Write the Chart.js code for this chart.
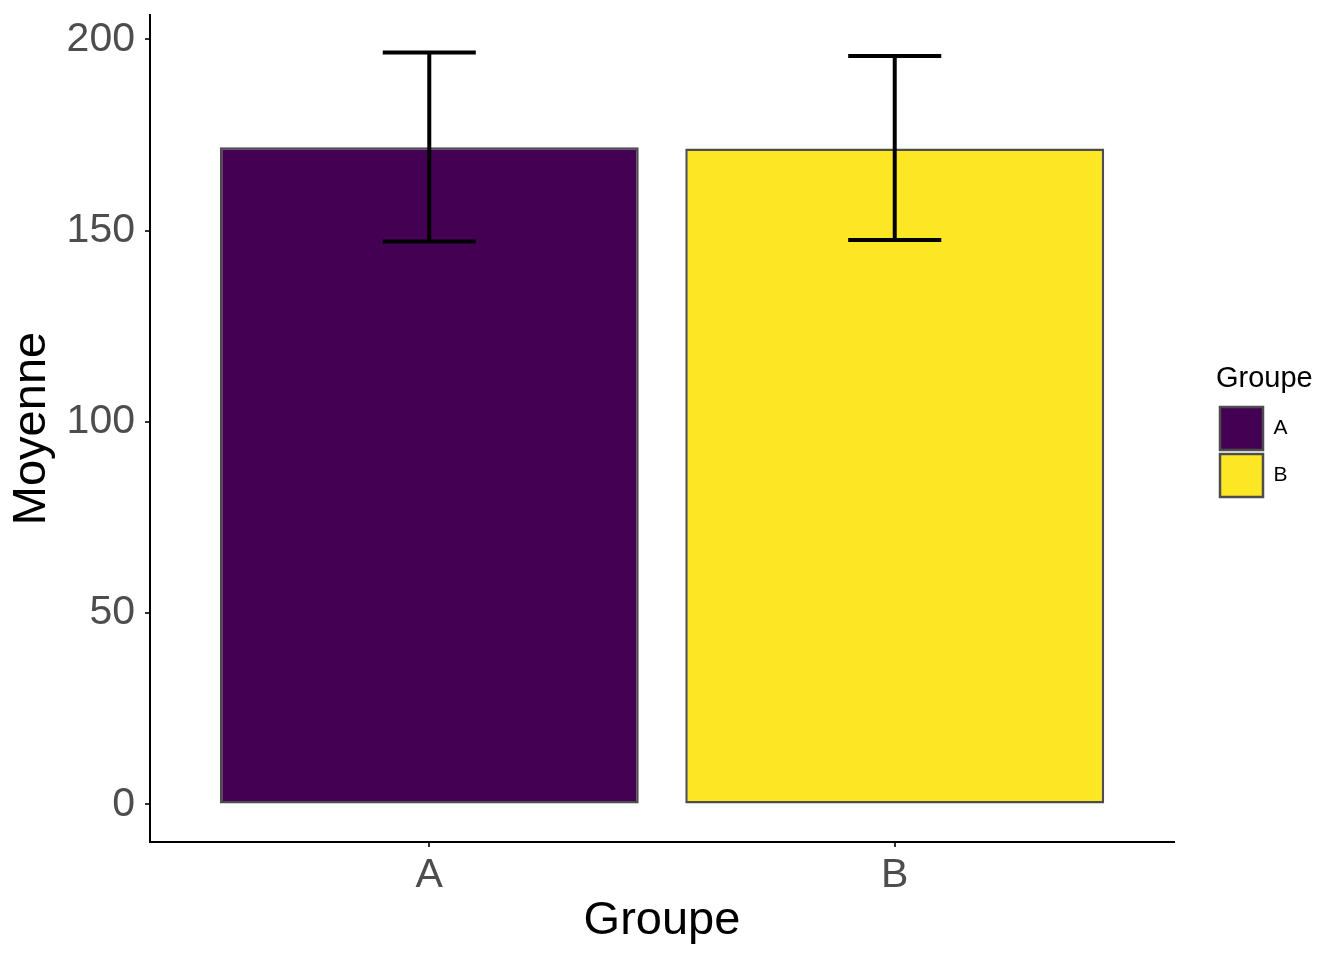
<!DOCTYPE html>
<html>
<head>
<meta charset="utf-8">
<script src="https://cdn.jsdelivr.net/npm/chart.js@4/dist/chart.umd.min.js"></script>
<style>
  body { margin: 0; background: #fff; }
  #wrap { width: 1344px; height: 960px; }
</style>
</head>
<body>
<div id="wrap"><canvas id="chart-moyenne" width="1344" height="960"></canvas></div>
<script>
// data
const groupes = ["A", "B"];
const moyennes = [171.8, 171.5];
const errBas = [147.2, 147.6];
const errHaut = [196.6, 195.7];
const couleurs = ["#440154", "#FDE725"];
const yTicks = [0, 50, 100, 150, 200];

const tickFont = { family: "'Liberation Sans', Arial, sans-serif", size: 41 };
const titleFont = { family: "'Liberation Sans', Arial, sans-serif", size: 47 };

// error bars drawn with the chart scales
const errorBars = {
  id: "errorBars",
  afterDatasetsDraw(chart) {
    const { ctx, scales: { x, y } } = chart;
    ctx.save();
    ctx.strokeStyle = "#000";
    ctx.lineWidth = 4;
    ctx.lineCap = "butt";
    groupes.forEach((g, i) => {
      const cx = x.getPixelForValue(i + 1);
      const half = x.getPixelForValue(i + 1.1) - cx;
      const top = y.getPixelForValue(errHaut[i]);
      const bot = y.getPixelForValue(errBas[i]);
      ctx.beginPath();
      ctx.moveTo(cx, top); ctx.lineTo(cx, bot);
      ctx.moveTo(cx - half, top); ctx.lineTo(cx + half, top);
      ctx.moveTo(cx - half, bot); ctx.lineTo(cx + half, bot);
      ctx.stroke();
    });
    ctx.restore();
  }
};

// keep the legend wide enough for its title
const legendWidth = {
  id: "legendWidth",
  beforeLayout(chart) {
    const lg = chart.legend;
    if (lg && !lg._wide) {
      const fit = lg.fit;
      lg.fit = function () { fit.call(this); this.width = 128; };
      lg._wide = true;
    }
  }
};

const datasets = groupes.map((g, i) => ({
  label: g,
  data: [{ x: i + 1, y: moyennes[i] }],
  backgroundColor: couleurs[i],
  borderColor: "#4d4d4d",
  borderWidth: 2.5,
  borderSkipped: false,
  grouped: false,
  barPercentage: 0.9,
  categoryPercentage: 1
}));

new Chart(document.getElementById("chart-moyenne"), {
  type: "bar",
  data: { datasets },
  plugins: [errorBars, legendWidth],
  options: {
    responsive: false,
    animation: false,
    devicePixelRatio: 1,
    layout: { padding: { top: 15, left: 0, bottom: 0, right: 0 } },
    plugins: {
      tooltip: { enabled: false },
      legend: {
        position: "right",
        fullSize: false,
        title: {
          display: true,
          text: "Groupe",
          position: "start",
          color: "#000",
          font: { family: "'Liberation Sans', Arial, sans-serif", size: 29, lineHeight: 1.2 },
          padding: { top: 8, bottom: 4 }
        },
        labels: {
          boxWidth: 43,
          boxHeight: 43,
          padding: 4,
          color: "#000",
          font: { family: "'Liberation Sans', Arial, sans-serif", size: 21 }
        }
      }
    },
    scales: {
      x: {
        type: "linear",
        min: 0.4,
        max: 2.6,
        offset: false,
        afterBuildTicks: s => { s.ticks = groupes.map((g, i) => ({ value: i + 1 })); },
        afterFit: s => { s.height = 118; s.paddingLeft = 0; s.paddingRight = 0; },
        ticks: {
          callback: v => groupes[v - 1],
          color: "#4d4d4d",
          font: tickFont,
          padding: 4,
          maxRotation: 0
        },
        grid: { offset: false, drawOnChartArea: false, drawTicks: true, tickLength: 5, tickColor: "#333", lineWidth: 2 },
        border: { display: true, color: "#000", width: 2 },
        title: { display: true, text: "Groupe", color: "#000", font: titleFont, padding: { top: 0, bottom: 11 } }
      },
      y: {
        min: -9.83,
        max: 206.4,
        afterBuildTicks: s => { s.ticks = yTicks.map(v => ({ value: v })); },
        afterFit: s => { s.width = 150; s.paddingTop = 0; s.paddingBottom = 0; },
        ticks: { color: "#4d4d4d", font: tickFont, padding: 10 },
        grid: { drawOnChartArea: false, drawTicks: true, tickLength: 5, tickColor: "#333", lineWidth: 2 },
        border: { display: true, color: "#000", width: 2 },
        title: { display: true, text: "Moyenne", color: "#000", font: titleFont, padding: { top: 4, bottom: 0 } }
      },
      gap: {
        type: "linear",
        position: "right",
        afterFit: s => { s.width = 42; },
        ticks: { display: false },
        grid: { display: false },
        border: { display: false }
      }
    }
  }
});
</script>
</body>
</html>
